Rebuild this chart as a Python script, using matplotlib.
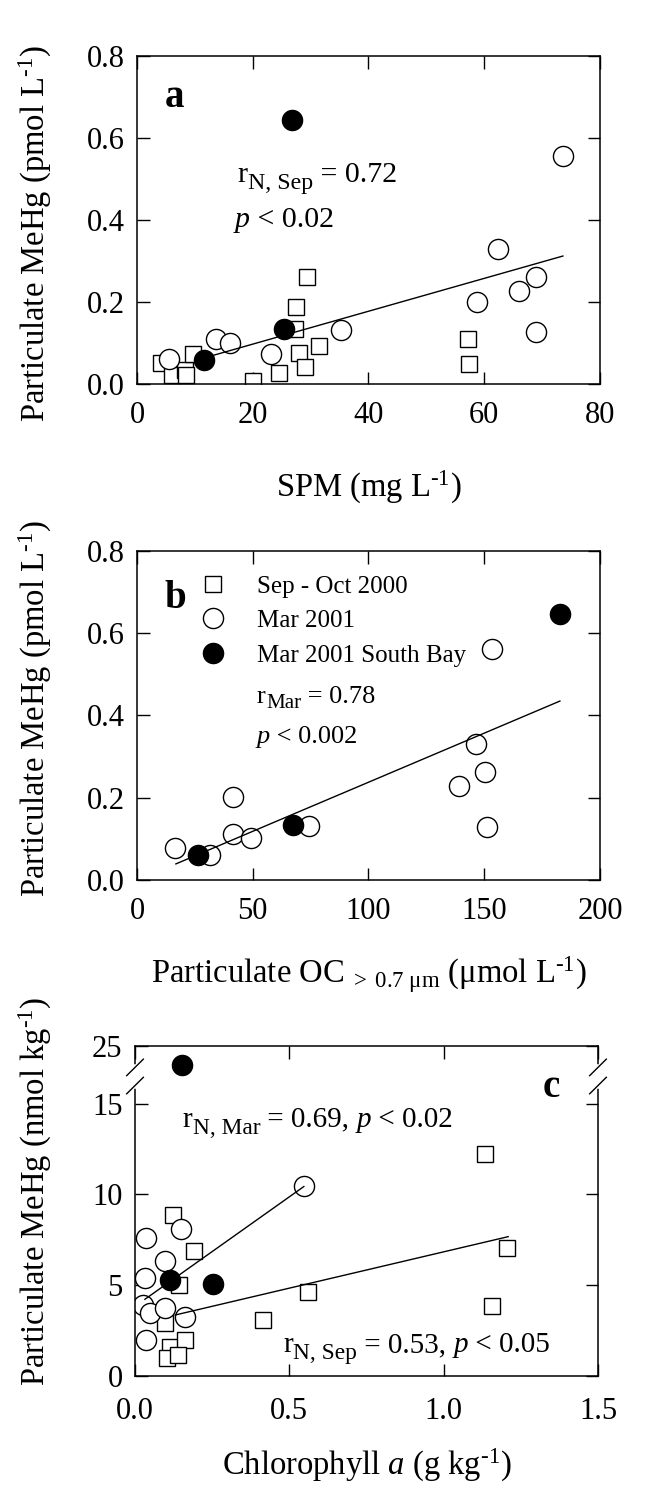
import numpy as np
import matplotlib
matplotlib.use("Agg")
import matplotlib.pyplot as plt
from matplotlib.lines import Line2D

plt.rcParams["font.family"] = ["Liberation Serif", "DejaVu Serif"]
plt.rcParams["mathtext.fontset"] = "custom"
plt.rcParams["mathtext.rm"] = "Liberation Serif"
plt.rcParams["mathtext.it"] = "Liberation Serif:italic"
plt.rcParams["mathtext.bf"] = "Liberation Serif:bold"

# panel a: SPM (mg/L) vs particulate MeHg (pmol/L)
a_sep_x = [4.1, 6.0, 8.3, 8.5, 9.6, 20.0, 24.5, 27.3, 27.5, 28.0, 29.1, 29.4, 31.4, 57.2, 57.4]
a_sep_y = [0.050, 0.022, 0.034, 0.022, 0.072, 0.008, 0.027, 0.135, 0.187, 0.076, 0.042, 0.261, 0.093, 0.110, 0.048]
a_mar_x = [5.6, 13.6, 16.1, 23.1, 35.2, 58.8, 62.4, 66.0, 68.9, 69.0, 73.6]
a_mar_y = [0.060, 0.110, 0.100, 0.074, 0.131, 0.199, 0.330, 0.226, 0.261, 0.127, 0.556]
a_sb_x = [11.5, 25.4, 26.8]
a_sb_y = [0.058, 0.135, 0.645]
a_fit = (0.00401, 0.017)     # slope, intercept
a_fit_x = [13.2, 73.6]

# panel b: particulate OC (umol/L) vs particulate MeHg
b_mar_x = [16.4, 31.5, 41.3, 41.3, 49.2, 74.3, 139.1, 146.3, 150.3, 151.1, 153.5]
b_mar_y = [0.077, 0.061, 0.203, 0.113, 0.101, 0.131, 0.229, 0.330, 0.263, 0.128, 0.561]
b_sb_x = [26.2, 67.3, 182.7]
b_sb_y = [0.061, 0.134, 0.646]
b_fit = (0.002387, -0.001)
b_fit_x = [16.8, 182.7]

# panel c: chlorophyll a (g/kg) vs particulate MeHg (nmol/kg)
c_sep_x = [0.124, 0.191, 0.143, 0.097, 0.113, 0.162, 0.103, 0.140, 0.416, 0.561, 1.134, 1.155, 1.204]
c_sep_y = [8.88, 6.86, 5.02, 2.94, 1.62, 1.99, 0.98, 1.16, 3.09, 4.65, 12.24, 3.86, 7.04]
c_mar_x = [0.036, 0.148, 0.098, 0.032, 0.027, 0.049, 0.097, 0.162, 0.035, 0.547]
c_mar_y = [7.59, 8.09, 6.34, 5.39, 3.92, 3.49, 3.73, 3.24, 1.99, 10.44]
c_sb_x = [0.113, 0.254, 0.153]
c_sb_y = [5.30, 5.07, 20.5]
c_fit_mar = (12.06, 3.84)
c_fit_mar_x = [0.032, 0.547]
c_fit_sep = (4.00, 2.84)
c_fit_sep_x = [0.130, 1.209]

legend_labels = ["Sep - Oct 2000", "Mar 2001", "Mar 2001 South Bay"]

# broken y axis for panel c: 16..20 squeezed into a gap, 20..25 compressed
brk_real = [-100, 16, 20, 125]
brk_scaled = [-100, 16, 17, 17 + 105 * 0.236]


def fwd(y):
    return np.interp(y, brk_real, brk_scaled)


def inv(y):
    return np.interp(y, brk_scaled, brk_real)


def rich(ax, x, y, parts, size, sub=0.8):
    # chain text pieces so subscripts can be bigger than mathtext allows
    first, st = parts[0]
    base = ax.text(x, y, first, transform=ax.transAxes, fontsize=size,
                   va="baseline", style="italic" if st == "it" else "normal")
    prev = base
    for txt, st in parts[1:]:
        if st == "sub":
            prev = ax.annotate(txt, xy=(1, 0), xycoords=(prev, base),
                               xytext=(0.5, -0.2 * size), textcoords="offset points",
                               fontsize=size * sub, va="bottom", ha="left")
        else:
            prev = ax.annotate(txt, xy=(1, 0), xycoords=(prev, base),
                               fontsize=size, va="bottom", ha="left",
                               style="italic" if st == "it" else "normal")


sq = dict(ls="none", marker="s", ms=12, mfc="white", mec="black", mew=1.0)
oc = dict(ls="none", marker="o", ms=14.5, mfc="white", mec="black", mew=1.0)
fc = dict(ls="none", marker="o", ms=14.5, mfc="black", mec="black", mew=1.0)

LAB = 23.5
sup1 = "$^{\\rm \u20101}$"

fig = plt.figure(figsize=(6.58, 14.90), dpi=100)
ax_a = fig.add_axes([0.2082, 0.7423, 0.7036, 0.2201])
ax_b = fig.add_axes([0.2082, 0.4094, 0.7036, 0.2208])
ax_c = fig.add_axes([0.2052, 0.0765, 0.7036, 0.2215])

for ax in (ax_a, ax_b, ax_c):
    ax.tick_params(direction="in", top=True, right=True, length=9, width=1,
                   labelsize=22)
    ax.tick_params(axis="x", pad=12)
    ax.tick_params(axis="y", pad=9)
    for s in ax.spines.values():
        s.set_linewidth(1.1)

# ---- a
ax_a.plot(a_sep_x, a_sep_y, **sq)
ax_a.plot(a_mar_x, a_mar_y, **oc)
ax_a.plot(a_sb_x, a_sb_y, **fc)
xf = np.array(a_fit_x)
ax_a.plot(xf, a_fit[0] * xf + a_fit[1], color="black", lw=1.0)
ax_a.set_xlim(0, 80)
ax_a.set_ylim(0, 0.8)
ax_a.set_xticks([0, 20, 40, 60, 80])
ax_a.set_yticks([0.0, 0.2, 0.4, 0.6, 0.8])
ax_a.set_yticklabels(["0.0", "0.2", "0.4", "0.6", "0.8"])
ax_a.set_xlabel("SPM (mg L" + sup1 + ")", fontsize=LAB)
ax_a.set_ylabel("Particulate MeHg (pmol L" + sup1 + ")", fontsize=LAB)
ax_a.xaxis.set_label_coords(0.5, -0.26)
ax_a.yaxis.set_label_coords(-0.18, 0.46)
ax_a.text(0.060, 0.845, "a", transform=ax_a.transAxes, fontsize=28,
          fontweight="bold", va="baseline")
rich(ax_a, 0.216, 0.616, [("r", "n"), ("N, Sep", "sub"), (" = 0.72", "n")], 21.5)
rich(ax_a, 0.212, 0.479, [("p", "it"), (" < 0.02", "n")], 21.5)

# ---- b
ax_b.plot(b_mar_x, b_mar_y, **oc)
ax_b.plot(b_sb_x, b_sb_y, **fc)
xf = np.array(b_fit_x)
ax_b.plot(xf, b_fit[0] * xf + b_fit[1], color="black", lw=1.0)
ax_b.set_xlim(0, 200)
ax_b.set_ylim(0, 0.8)
ax_b.set_xticks([0, 50, 100, 150, 200])
ax_b.set_yticks([0.0, 0.2, 0.4, 0.6, 0.8])
ax_b.set_yticklabels(["0.0", "0.2", "0.4", "0.6", "0.8"])
ax_b.set_xlabel("Particulate OC$_{\\rm \\ >\\ 0.7\\ μm}$ (μmol L" + sup1 + ")",
                fontsize=LAB)
ax_b.set_ylabel("Particulate MeHg (pmol L" + sup1 + ")", fontsize=LAB)
ax_b.xaxis.set_label_coords(0.5, -0.225)
ax_b.yaxis.set_label_coords(-0.18, 0.52)
ax_b.text(0.060, 0.827, "b", transform=ax_b.transAxes, fontsize=28,
          fontweight="bold", va="baseline")
rich(ax_b, 0.259, 0.538, [("r", "n"), ("Mar", "sub"), (" = 0.78", "n")], 19)
rich(ax_b, 0.259, 0.416, [("p", "it"), (" < 0.002", "n")], 19)
handles = [Line2D([], [], **sq), Line2D([], [], **oc), Line2D([], [], **fc)]
ax_b.legend(handles, legend_labels, loc="upper left", bbox_to_anchor=(0.137, 0.927),
            frameon=False, fontsize=18, handlelength=1.0, handletextpad=1.25,
            labelspacing=0.48, borderpad=0, borderaxespad=0)

# ---- c
ax_c.set_yscale("function", functions=(fwd, inv))
ax_c.plot(c_sep_x, c_sep_y, **sq)
ax_c.plot(c_mar_x, c_mar_y, **oc)
ax_c.plot(c_sb_x, c_sb_y, **fc)
xf = np.array(c_fit_mar_x)
ax_c.plot(xf, c_fit_mar[0] * xf + c_fit_mar[1], color="black", lw=1.0)
xf = np.array(c_fit_sep_x)
ax_c.plot(xf, c_fit_sep[0] * xf + c_fit_sep[1], color="black", lw=1.0)
ax_c.set_xlim(0, 1.5)
ax_c.set_ylim(0, 25)
ax_c.set_xticks([0.0, 0.5, 1.0, 1.5])
ax_c.set_xticklabels(["0.0", "0.5", "1.0", "1.5"])
ax_c.set_yticks([0, 5, 10, 15, 25])
ax_c.set_yticklabels(["0", "5", "10", "15", "25"])
ax_c.tick_params(axis="x", pad=15)
ax_c.set_xlabel("Chlorophyll $\\it{a}$ (g kg" + sup1 + ")", fontsize=LAB)
ax_c.set_ylabel("Particulate MeHg (nmol kg" + sup1 + ")", fontsize=LAB)
ax_c.xaxis.set_label_coords(0.5, -0.215)
ax_c.yaxis.set_label_coords(-0.175, 0.56)
ax_c.text(0.881, 0.845, "c", transform=ax_c.transAxes, fontsize=28,
          fontweight="bold", va="baseline")
rich(ax_c, 0.102, 0.755, [("r", "n"), ("N, Mar", "sub"), (" = 0.69, ", "n"),
                          ("p", "it"), (" < 0.02", "n")], 21)
rich(ax_c, 0.320, 0.073, [("r", "n"), ("N, Sep", "sub"), (" = 0.53, ", "n"),
                          ("p", "it"), (" < 0.05", "n")], 21)

# break marks on both spines
lo = fwd(brk_real[1]) / fwd(25)
hi = fwd(brk_real[2]) / fwd(25)
for xs in (0.0, 1.0):
    ax_c.plot([xs, xs], [lo, hi], transform=ax_c.transAxes, color="white",
              lw=4, clip_on=False, zorder=5)
    for yb in (lo, hi):
        ax_c.plot([xs - 0.018, xs + 0.018], [yb - 0.025, yb + 0.025],
                  transform=ax_c.transAxes, color="black", lw=1.0,
                  clip_on=False, zorder=6)

fig.savefig("out.png", dpi=100)
